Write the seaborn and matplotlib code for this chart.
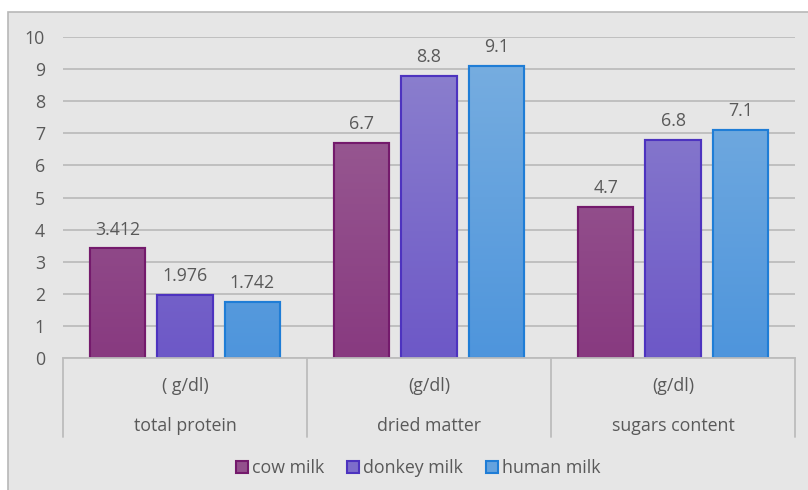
import numpy as np
import pandas as pd
import matplotlib
matplotlib.use("Agg")
import matplotlib.pyplot as plt
from matplotlib.patches import Rectangle, Patch
from matplotlib.colors import LinearSegmentedColormap
import seaborn as sns

# Data
categories = ["total protein", "dried matter", "sugars content"]
units = ["( g/dl)", "(g/dl)", "(g/dl)"]
series = ["cow milk", "donkey milk", "human milk"]
cow_milk = [3.412, 6.7, 4.7]
donkey_milk = [1.976, 8.8, 6.8]
human_milk = [1.742, 9.1, 7.1]
value_labels = [["3.412", "6.7", "4.7"], ["1.976", "8.8", "6.8"], ["1.742", "9.1", "7.1"]]

df = pd.DataFrame({
    "category": categories * 3,
    "series": [s for s in series for _ in categories],
    "value": cow_milk + donkey_milk + human_milk,
})

# Styling
bg = "#e6e6e6"
text_col = "#595959"
grid_col = "#bcbcbc"
tops = ["#9d6498", "#8e83ce", "#7aafe0"]
bottoms = ["#883a80", "#6d58c7", "#4e95dc"]
edges = ["#741a6c", "#4d33bf", "#1f7dd6"]
mids = ["#93508c", "#7d6dcb", "#64a2de"]
fs = 12.8

sns.set_theme(style="white")
plt.rcParams["font.family"] = ["Open Sans", "DejaVu Sans"]

fig = plt.figure(figsize=(8.08, 4.90), dpi=100)
fig.patch.set_facecolor("white")
# chart area frame (left and top edges visible)
fig.patches.append(Rectangle((8 / 808, -0.1), 1.2, 1.1 - 12 / 490, transform=fig.transFigure,
                             facecolor=bg, edgecolor="#b8b8b8", linewidth=1.2, zorder=-10))

ax = fig.add_axes([63 / 808, 1 - 358 / 490, (795 - 63) / 808, (358 - 37) / 490])
ax.set_facecolor(bg)
ax.patch.set_alpha(0)

sns.barplot(data=df, x="category", y="value", hue="series", order=categories,
            hue_order=series, palette=mids, width=0.827, gap=0.18, ax=ax,
            legend=False, errorbar=None, saturation=1)

ax.set_xlim(-0.5, 2.5)
ax.set_ylim(0, 10)
ax.set_yticks(range(0, 11))
ax.grid(axis="y", color=grid_col, linewidth=1.3)
ax.set_axisbelow(True)
for s in ["top", "right", "left"]:
    ax.spines[s].set_visible(False)
ax.spines["bottom"].set_color(grid_col)
ax.spines["bottom"].set_linewidth(1.3)
ax.tick_params(axis="y", length=0, pad=13, labelsize=fs, labelcolor=text_col)
ax.set_xticks([])
ax.set_xlabel("")
ax.set_ylabel("")

# Gradient fills clipped to each bar, plus outlines
for i, cont in enumerate(ax.containers):
    cmap = LinearSegmentedColormap.from_list(f"g{i}", [bottoms[i], tops[i]])
    grad = np.linspace(0, 1, 256).reshape(-1, 1)
    for bar in cont:
        x0, y0 = bar.get_x(), bar.get_y()
        w, h = bar.get_width(), bar.get_height()
        bar.set_edgecolor(edges[i])
        bar.set_linewidth(1.5)
        im = ax.imshow(grad, extent=[x0, x0 + w, 0, 10], origin="lower", cmap=cmap,
                       aspect="auto", zorder=bar.get_zorder() + 0.1, interpolation="bilinear")
        im.set_clip_path(bar)
        outline = Rectangle((x0, y0), w, h, facecolor="none", edgecolor=edges[i],
                            linewidth=1.5, zorder=bar.get_zorder() + 0.2)
        ax.add_patch(outline)
    ax.bar_label(cont, labels=value_labels[i], padding=7, fontsize=fs, color=text_col)

ax.set_xlim(-0.5, 2.5)
ax.set_ylim(0, 10)

# Two-level category axis
trans = ax.get_xaxis_transform()
for xb in [-0.5, 0.5, 1.5, 2.5]:
    ax.plot([xb, xb], [0, -(437 - 358) / 321], transform=trans, color=grid_col,
            linewidth=1.3, clip_on=False)
for j, (cat, unit) in enumerate(zip(categories, units)):
    ax.text(j, -(386 - 358) / 321, unit, transform=trans, ha="center", va="center",
            fontsize=fs, color=text_col)
    ax.text(j, -(426 - 358) / 321, cat, transform=trans, ha="center", va="center",
            fontsize=fs, color=text_col)

handles = [Patch(facecolor=mids[i], edgecolor=edges[i], linewidth=1.5) for i in range(3)]
fig.legend(handles, series, loc="center", bbox_to_anchor=(418 / 808, 1 - 468 / 490),
           ncol=3, frameon=False, fontsize=fs, labelcolor=text_col, handlelength=0.7,
           handleheight=0.7, handletextpad=0.2, columnspacing=1.3)

fig.savefig("out.png", dpi=100, facecolor="white")
